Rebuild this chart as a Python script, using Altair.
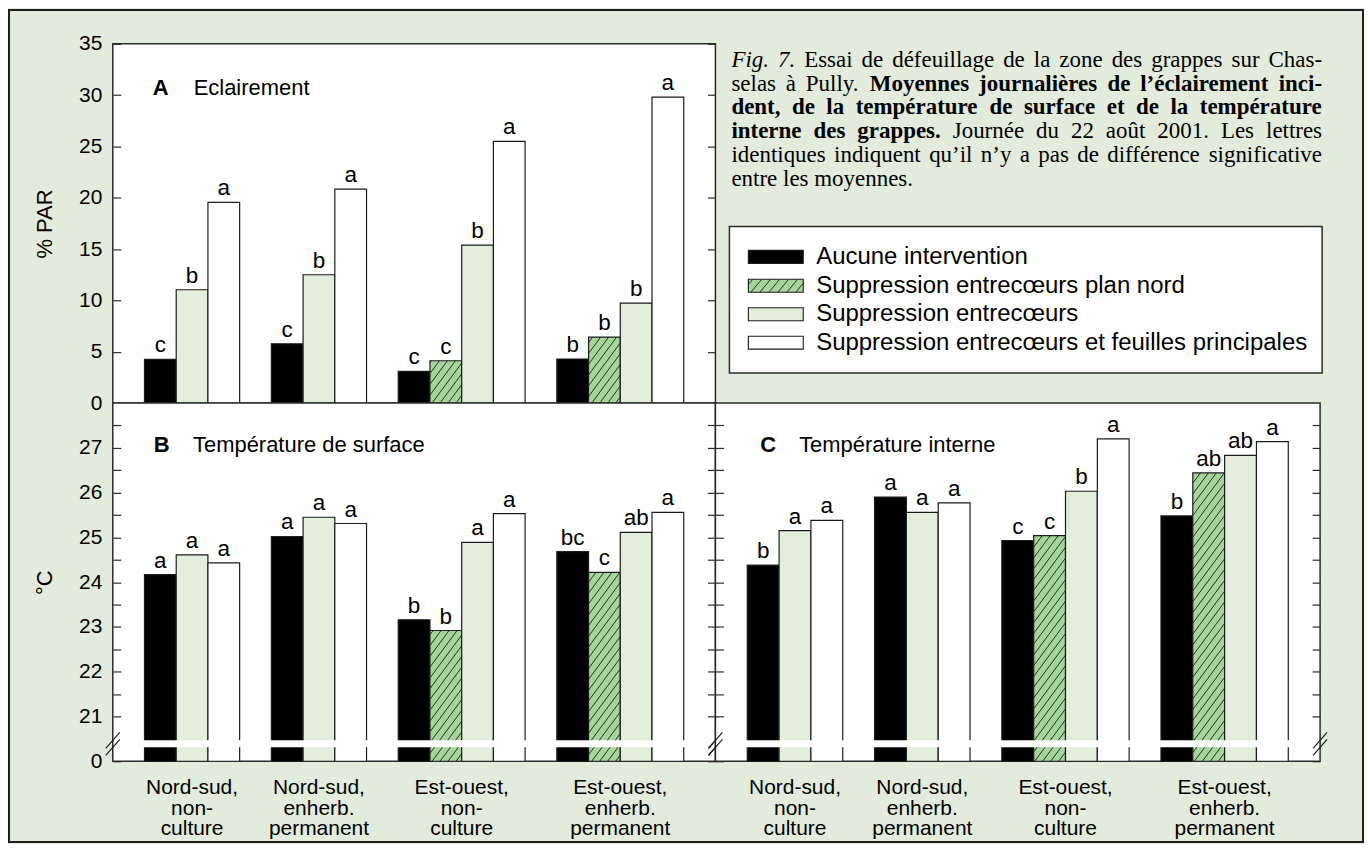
import math
import altair as alt
import pandas as pd

# ---------------- data ----------------
groups = ["Nord-sud,\nnon-\nculture", "Nord-sud,\nenherb.\npermanent",
          "Est-ouest,\nnon-\nculture", "Est-ouest,\nenherb.\npermanent"]
series = ["Aucune intervention", "Suppression entrecœurs plan nord",
          "Suppression entrecœurs", "Suppression entrecœurs et feuilles principales"]
series_colors = ["#000000", "#a5d59a", "#e2eddb", "#ffffff"]

# A - Eclairement (% PAR)
a_aucune = [4.25, 5.78, 3.08, 4.29]
a_nord = [None, None, 4.12, 6.43]
a_entre = [11.04, 12.50, 15.39, 9.74]
a_feuilles = [19.55, 20.84, 25.49, 29.81]
a_let_aucune = ["c", "c", "c", "b"]
a_let_nord = [None, None, "c", "b"]
a_let_entre = ["b", "b", "b", "b"]
a_let_feuilles = ["a", "a", "a", "a"]

# B - Temperature de surface (°C)
b_aucune = [24.17, 25.02, 23.16, 24.68]
b_nord = [None, None, 22.92, 24.22]
b_entre = [24.61, 25.45, 24.89, 25.11]
b_feuilles = [24.43, 25.31, 25.53, 25.56]
b_let_aucune = ["a", "a", "b", "bc"]
b_let_nord = [None, None, "b", "c"]
b_let_entre = ["a", "a", "a", "ab"]
b_let_feuilles = ["a", "a", "a", "a"]

# C - Temperature interne (°C)
c_aucune = [24.38, 25.90, 24.93, 25.48]
c_nord = [None, None, 25.04, 26.44]
c_entre = [25.15, 25.56, 26.03, 26.83]
c_feuilles = [25.38, 25.77, 27.20, 27.14]
c_let_aucune = ["b", "a", "c", "b"]
c_let_nord = [None, None, "c", "ab"]
c_let_entre = ["a", "a", "b", "ab"]
c_let_feuilles = ["a", "a", "a", "a"]

a_ticks = [0, 5, 10, 15, 20, 25, 30, 35]
t_ticks = [20, 21, 21.5, 22, 22.5, 23, 23.5, 24, 24.5, 25, 25.5, 26, 26.5, 27, 27.5]

panel_titles_a = [("A", "bold"), ("Eclairement", "normal")]
panel_titles_b = [("B", "bold"), ("Température de surface", "normal")]
panel_titles_c = [("C", "bold"), ("Température interne", "normal")]

caption_lines = [
    [("Fig. 7.", "italic"), ("Essai de défeuillage de la zone des grappes sur Chas-", "normal")],
    [("selas à Pully.", "normal"), ("Moyennes journalières de l’éclairement inci-", "bold")],
    [("dent, de la température de surface et de la température", "bold")],
    [("interne des grappes.", "bold"), ("Journée du 22 août 2001. Les lettres", "normal")],
    [("identiques indiquent qu’il n’y a pas de différence significative", "normal")],
    [("entre les moyennes.", "normal")],
]

# ---------------- style ----------------
FONT = "Liberation Sans"
SERIF = "Liberation Serif"
INK = "#1c1c1c"
BG = "#e3ecdc"

# Times (Liberation Serif) advance widths, 1/1000 em, for justifying the caption
_TR = {" ": 250, ",": 250, "-": 333, ".": 250, "’": 333, "C": 667, "E": 611, "F": 556,
       "J": 389, "L": 611, "P": 556, "M": 889, "a": 444, "b": 500, "c": 444, "d": 500,
       "e": 444, "f": 333, "g": 500, "h": 500, "i": 278, "j": 278, "k": 500, "l": 278,
       "m": 778, "n": 500, "o": 500, "p": 500, "q": 500, "r": 333, "s": 389, "t": 278,
       "u": 500, "v": 500, "w": 722, "x": 500, "y": 500, "z": 444, "à": 444, "é": 444,
       "è": 444, "û": 500}
_TB = dict(_TR)
_TB.update({"M": 944, "a": 500, "b": 556, "d": 556, "h": 556, "j": 333, "k": 556,
            "m": 833, "n": 556, "p": 556, "q": 556, "r": 444, "t": 333, "u": 556,
            "à": 500, "û": 556})
_TI = dict(_TR)
_TI.update({"F": 611, "g": 500})


def text_w(s, style, size):
    tab = _TB if style == "bold" else (_TI if style == "italic" else _TR)
    return sum(tab.get(ch, 500) for ch in s) * size / 1000.0


def hatch(X0, X1, Y0, Y1, gap=8.0, k=1.35):
    segs = []
    if Y1 - Y0 <= 0:
        return segs
    cmin = X0 - Y1 / k
    cmax = X1 - Y0 / k
    for n in range(math.floor(cmin / gap), math.ceil(cmax / gap) + 1):
        c = n * gap
        ya = max(Y0, k * (X0 - c))
        yb = min(Y1, k * (X1 - c))
        if yb - ya > 0.6:
            segs.append((c + ya / k, ya, c + yb / k, yb))
    return segs


def bar_table(vals, lets, base):
    rows, slot = [], 1
    for g, gname in enumerate(groups):
        for s, sname in enumerate(series):
            v = vals[s][g]
            if v is None:
                continue
            rows.append({"group": gname, "series": sname, "sidx": s, "value": v,
                         "letter": lets[s][g], "x0": slot, "x1": slot + 1,
                         "xm": slot + 0.5, "base": base})
            slot += 1
        slot += 1
    return pd.DataFrame(rows), slot


def panel(vals, lets, ymin, ymax, w, h, ticks, axis_left, axis_right, titles, title_pos,
          broken=False, show_cats=False):
    df, nslot = bar_table(vals, lets, ymin)
    sx = w / nslot
    sy = h / (ymax - ymin)
    xs = alt.Scale(domain=[0, nslot], nice=False, zero=False)
    ys = alt.Scale(domain=[ymin, ymax], nice=False, zero=False)
    fill = alt.Fill("series:N", scale=alt.Scale(domain=series, range=series_colors), legend=None)

    bars = alt.Chart(df).mark_rect(stroke=INK, strokeWidth=1.2).encode(
        x=alt.X("x0:Q", scale=xs, axis=None), x2="x1:Q",
        y=alt.Y("value:Q", scale=ys, axis=axis_left), y2="base:Q", fill=fill)

    hrows = []
    for r in df[df.sidx == 1].itertuples():
        for (xa, ya, xb, yb) in hatch(r.x0 * sx, r.x1 * sx, 0, (r.value - ymin) * sy):
            hrows.append({"hx0": xa / sx, "hy0": ymin + ya / sy,
                          "hx1": xb / sx, "hy1": ymin + yb / sy})
    hatch_layer = alt.Chart(pd.DataFrame(hrows)).mark_rule(color=INK, strokeWidth=0.9).encode(
        x=alt.X("hx0:Q", scale=xs, axis=None), x2="hx1:Q",
        y=alt.Y("hy0:Q", scale=ys, axis=None), y2="hy1:Q")
    layers = [bars, hatch_layer]

    if broken:
        band_lo = ymin + 14 / sy
        band_hi = ymin + 21 / sy
        band = pd.DataFrame([{"bx0": 0.04, "bx1": nslot - 0.04, "by0": band_lo, "by1": band_hi}])
        layers.append(alt.Chart(band).mark_rect(fill="white", strokeWidth=0).encode(
            x=alt.X("bx0:Q", scale=xs, axis=None), x2="bx1:Q",
            y=alt.Y("by0:Q", scale=ys, axis=None), y2="by1:Q"))
        brk = []
        for ex in (0, nslot):
            for yc in (14, 21):
                brk.append({"rx0": ex - 7 / sx, "ry0": ymin + (yc - 8) / sy,
                            "rx1": ex + 7 / sx, "ry1": ymin + (yc + 8) / sy})
        layers.append(alt.Chart(pd.DataFrame(brk)).mark_rule(color=INK, strokeWidth=1.2).encode(
            x=alt.X("rx0:Q", scale=xs, axis=None), x2="rx1:Q",
            y=alt.Y("ry0:Q", scale=ys, axis=None), y2="ry1:Q"))

    layers.append(alt.Chart(df).mark_text(baseline="alphabetic", dy=-7, fontSize=22.5, font=FONT,
                                          color="black").encode(
        x=alt.X("xm:Q", scale=xs, axis=None), y=alt.Y("value:Q", scale=ys, axis=None),
        text="letter:N"))

    tdf = pd.DataFrame([{"t": t, "w": wgt, "tx": title_pos[i][0], "ty": title_pos[i][1]}
                        for i, (t, wgt) in enumerate(titles)])
    for wgt in ("bold", "normal"):
        layers.append(alt.Chart(tdf).transform_filter(alt.datum.w == wgt).mark_text(
            align="left", baseline="middle", fontSize=22, font=FONT, fontWeight=wgt,
            color="black").encode(
            x=alt.X("tx:Q", scale=xs, axis=None), y=alt.Y("ty:Q", scale=ys, axis=None),
            text="t:N"))

    layers.append(alt.Chart(df).mark_point(opacity=0).encode(
        x=alt.X("xm:Q", scale=xs, axis=None), y=alt.Y("value:Q", scale=ys, axis=axis_right)))

    if show_cats:
        cen = df.groupby("group", sort=False).agg(a=("x0", "min"), b=("x1", "max")).reset_index()
        cen["gx"] = (cen["a"] + cen["b"]) / 2
        layers.append(alt.Chart(cen).mark_text(
            font=FONT, fontSize=21, lineBreak="\n", lineHeight=20.5, baseline="alphabetic",
            align="center", color="black").encode(
            x=alt.X("gx:Q", scale=xs, axis=None), y=alt.value(h + 33), text="group:N"))

    return alt.layer(*layers).resolve_axis(y="independent").properties(width=w, height=h)


def left_axis(values, title, labels=True, label_expr=None):
    kw = dict(orient="left", values=values, offset=-8, tickSize=8, domain=False, grid=False,
              labels=labels, labelPadding=11, labelOverlap=False, title=title,
              titlePadding=22)
    if label_expr:
        kw["labelExpr"] = label_expr
    return alt.Axis(**kw)


def right_axis(values):
    return alt.Axis(orient="right", values=values, offset=-8, tickSize=8, domain=False,
                    grid=False, labels=False, title="")


WA, WC, HA, HB = 604, 606, 360, 359
t_expr = "datum.value == 20 ? '0' : (datum.value % 1 == 0 ? format(datum.value, 'd') : '')"

A = panel([a_aucune, a_nord, a_entre, a_feuilles],
          [a_let_aucune, a_let_nord, a_let_entre, a_let_feuilles],
          0, 35, WA, HA, a_ticks, left_axis(a_ticks, "% PAR"), right_axis(a_ticks),
          panel_titles_a, [(1.26, 30.72), (2.55, 30.72)])
B = panel([b_aucune, b_nord, b_entre, b_feuilles],
          [b_let_aucune, b_let_nord, b_let_entre, b_let_feuilles],
          20, 28, WA, HB, t_ticks, left_axis(t_ticks, "°C", label_expr=t_expr),
          right_axis(t_ticks), panel_titles_b, [(1.29, 27.07), (2.53, 27.07)],
          broken=True, show_cats=True)
C = panel([c_aucune, c_nord, c_entre, c_feuilles],
          [c_let_aucune, c_let_nord, c_let_entre, c_let_feuilles],
          20, 28, WC, HB, t_ticks, left_axis(t_ticks, "", labels=False),
          right_axis(t_ticks), panel_titles_c, [(1.41, 27.07), (2.63, 27.07)],
          broken=True, show_cats=True)

# ---------------- caption + legend panel ----------------
IW, IH = 606, 360
ixs = alt.Scale(domain=[0, IW], nice=False, zero=False)
iys = alt.Scale(domain=[0, IH], nice=False, zero=False, reverse=True)


def IX(f):
    return alt.X(f, type="quantitative", scale=ixs, axis=None)


def IY(f):
    return alt.Y(f, type="quantitative", scale=iys, axis=None)


frame = pd.DataFrame([{"x0": -708, "x1": 649, "y0": -34, "y1": 800}])
frame_layer = alt.Chart(frame).mark_rect(fill="white", fillOpacity=0, stroke="#1e1e1e",
                                         strokeWidth=2).encode(
    x=IX("x0"), x2="x1", y=IY("y0"), y2="y1")

# justified caption: words spread so that each line but the last fills the column
CAP_SIZE, CAP_LH, CAP_X, CAP_R, CAP_Y0 = 23, 23.8, 16, 608, 23
cap_rows = []
for i, segs in enumerate(caption_lines):
    words = [(wd, sty) for (txt, sty) in segs for wd in txt.split(" ")]
    widths = [text_w(wd, sty, CAP_SIZE) for wd, sty in words]
    space = text_w(" ", "normal", CAP_SIZE)
    if i < len(caption_lines) - 1 and len(words) > 1:
        gap = (CAP_R - CAP_X - sum(widths)) / (len(words) - 1)
    else:
        gap = space
    xpos = CAP_X
    for (wd, sty), wdt in zip(words, widths):
        cap_rows.append({"t": wd, "s": sty, "x": xpos, "y": CAP_Y0 + i * CAP_LH})
        xpos += wdt + gap
cap_df = pd.DataFrame(cap_rows)
cap_layers = []
for sty in ("normal", "bold", "italic"):
    cap_layers.append(alt.Chart(cap_df).transform_filter(alt.datum.s == sty).mark_text(
        align="left", baseline="alphabetic", font=SERIF, fontSize=CAP_SIZE,
        fontWeight="bold" if sty == "bold" else "normal",
        fontStyle="italic" if sty == "italic" else "normal", color="black").encode(
        x=IX("x"), y=IY("y"), text="t:N"))

box = pd.DataFrame([{"x0": 14, "x1": 608, "y0": 183, "y1": 330}])
box_layer = alt.Chart(box).mark_rect(fill="white", stroke="#2b2b2b", strokeWidth=1.5).encode(
    x=IX("x0"), x2="x1", y=IY("y0"), y2="y1")

row_c = [213.5, 242.5, 271, 299.5]
leg = pd.DataFrame([{"series": s, "x0": 33, "x1": 88, "y0": row_c[i] - 6.5,
                     "y1": row_c[i] + 6.5, "yc": row_c[i], "tx": 101}
                    for i, s in enumerate(series)])
sw_layer = alt.Chart(leg).mark_rect(stroke=INK, strokeWidth=1.1).encode(
    x=IX("x0"), x2="x1", y=IY("y0"), y2="y1",
    fill=alt.Fill("series:N", scale=alt.Scale(domain=series, range=series_colors), legend=None))
hs = []
for (xa, ya, xb, yb) in hatch(33, 88, -(row_c[1] + 6.5), -(row_c[1] - 6.5), gap=9.0, k=1.2):
    hs.append({"x0": xa, "y0": -ya, "x1": xb, "y1": -yb})
sw_hatch = alt.Chart(pd.DataFrame(hs)).mark_rule(color=INK, strokeWidth=0.9).encode(
    x=IX("x0"), x2="x1", y=IY("y0"), y2="y1")
leg_text = alt.Chart(leg).mark_text(align="left", baseline="middle", font=FONT, fontSize=24,
                                    color="black").encode(
    x=IX("tx"), y=IY("yc"), text="series:N")

info = alt.layer(frame_layer, *cap_layers, box_layer, sw_layer, sw_hatch, leg_text).properties(
    width=IW, height=IH, view=alt.ViewBackground(fillOpacity=0, strokeOpacity=0))

chart = alt.ConcatChart(concat=[A, info, B, C], columns=2, spacing=0, bounds="flush").properties(
    background=BG, padding=0
).configure_view(
    stroke="#2b2b2b", strokeWidth=1.5, fill="white"
).configure_axis(
    labelFont=FONT, labelFontSize=21, labelColor="black", titleFont=FONT, titleFontSize=22,
    titleFontWeight="normal", titleColor="black", tickColor="#2b2b2b", tickWidth=1.2
).configure_text(font=FONT)

chart.save("out.html", embed_options={"renderer": "svg", "actions": False})
